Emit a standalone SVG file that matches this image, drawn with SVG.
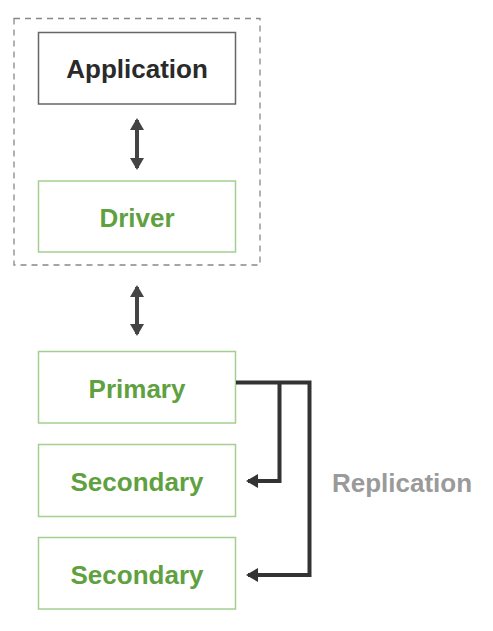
<svg xmlns="http://www.w3.org/2000/svg" width="493" height="631" viewBox="0 0 493 631">
<style>
.lbl{font-family:"Liberation Sans",Arial,sans-serif;font-weight:bold;font-size:26px;text-anchor:middle}
.g{fill:#5fa140}
.gbox{fill:#fff;stroke:#a3cf8f;stroke-width:1.5}
.conn{fill:none;stroke:#333;stroke-width:4}
.dbl{fill:none;stroke:#444;stroke-width:4}
</style>
<defs>
<marker id="ah" markerUnits="userSpaceOnUse" markerWidth="14" markerHeight="16" refX="10" refY="8" orient="auto-start-reverse" viewBox="0 0 14 16">
<path d="M0,1 L12,8 L0,15 Z" fill="#444"/>
</marker>
<marker id="ah2" markerUnits="userSpaceOnUse" markerWidth="14" markerHeight="16" refX="10" refY="8" orient="auto" viewBox="0 0 14 16">
<path d="M0,1 L12,8 L0,15 Z" fill="#333"/>
</marker>
</defs>
<rect width="493" height="631" fill="#fff"/>
<g id="client">
<rect x="14" y="18.5" width="246" height="246.5" fill="none" stroke="#888" stroke-width="1.3" stroke-dasharray="6,5"/>
</g>
<g id="application">
<rect x="38.5" y="32.5" width="197" height="71.5" fill="#fff" stroke="#666" stroke-width="1.5"/>
<text class="lbl" x="137" y="78" fill="#2a2a2a">Application</text>
</g>
<g id="driver">
<rect class="gbox" x="38.5" y="181" width="197" height="71"/>
<text class="lbl g" x="137" y="227">Driver</text>
</g>
<g id="primary">
<rect class="gbox" x="38.5" y="351.5" width="197" height="71.5"/>
<text class="lbl g" x="137" y="398">Primary</text>
</g>
<g id="secondary1">
<rect class="gbox" x="38.5" y="444.5" width="197" height="72"/>
<text class="lbl g" x="137" y="491">Secondary</text>
</g>
<g id="secondary2">
<rect class="gbox" x="38.5" y="537.5" width="197" height="71.5"/>
<text class="lbl g" x="137" y="584">Secondary</text>
</g>
<g id="connectors">
<line class="dbl" x1="137" y1="120" x2="137" y2="168" marker-start="url(#ah)" marker-end="url(#ah)"/>
<line class="dbl" x1="137" y1="287" x2="137" y2="334" marker-start="url(#ah)" marker-end="url(#ah)"/>
<path class="conn" d="M236,382.5 H309.5 V575 H248" marker-end="url(#ah2)"/>
<path class="conn" d="M279.5,382.5 V481 H248" marker-end="url(#ah2)"/>
<text class="lbl" x="402" y="492" fill="#9a9a9a">Replication</text>
</g>
</svg>
